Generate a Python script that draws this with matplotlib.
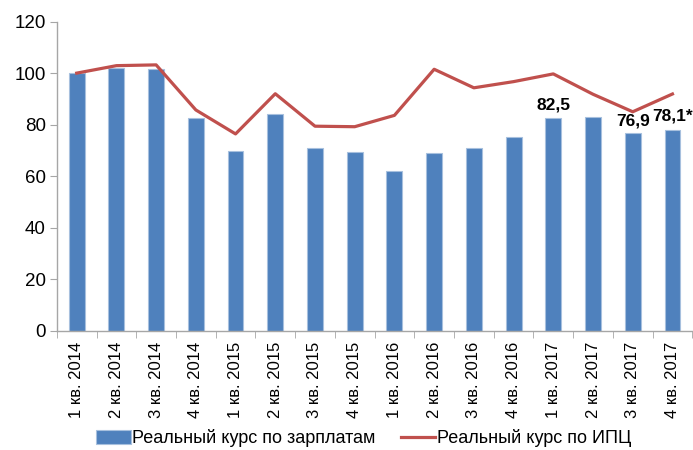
import matplotlib.pyplot as plt
import numpy as np

plt.rcParams['font.family'] = ['Liberation Sans', 'DejaVu Sans']

quarters = ['1 кв. 2014', '2 кв. 2014', '3 кв. 2014', '4 кв. 2014',
            '1 кв. 2015', '2 кв. 2015', '3 кв. 2015', '4 кв. 2015',
            '1 кв. 2016', '2 кв. 2016', '3 кв. 2016', '4 кв. 2016',
            '1 кв. 2017', '2 кв. 2017', '3 кв. 2017', '4 кв. 2017']
wages = [100.0, 102.1, 101.5, 82.6, 69.9, 84.2, 71.1, 69.3,
         62.0, 68.9, 71.0, 75.3, 82.5, 82.9, 76.9, 78.1]
cpi = [100.0, 102.9, 103.2, 85.7, 76.4, 92.0, 79.4, 79.2,
       83.6, 101.5, 94.3, 96.7, 99.7, 91.8, 85.0, 91.9]
# bar labels that the original shows
shown_labels = {12: '82,5', 14: '76,9', 15: '78,1*'}

fig = plt.figure(figsize=(6.93, 4.5), dpi=100)
ax = fig.add_axes([0.082, 0.265, 0.917, 0.687])

x = np.arange(len(quarters))
bars = ax.bar(x, wages, width=0.4, color='#4F81BD', edgecolor='#A7C0DE', linewidth=0.8,
              label='Реальный курс по зарплатам', zorder=2)
line, = ax.plot(x, cpi, color='#C0504D', linewidth=2.3, label='Реальный курс по ИПЦ', zorder=3)

for i, txt in shown_labels.items():
    off = 1.5 if i == 14 else 2.3
    ax.text(x[i], wages[i] + off, txt, ha='center', va='bottom',
            fontsize=12.5, fontweight='bold', color='black', zorder=4)

ax.set_xlim(-0.5, len(quarters) - 0.5)
ax.set_ylim(0, 120)
ax.set_yticks(range(0, 121, 20))
ax.tick_params(axis='y', labelsize=13.5, length=5, color='#A6A6A6', pad=3)

ax.set_xticks(x)
ax.set_xticklabels(quarters, rotation=90, fontsize=12)
ax.tick_params(axis='x', length=0, pad=8)
ax.set_xticks(np.arange(-0.5, len(quarters)), minor=True)
ax.tick_params(axis='x', which='minor', length=5, color='#A6A6A6')

for s in ['top', 'right']:
    ax.spines[s].set_visible(False)
for s in ['left', 'bottom']:
    ax.spines[s].set_color('#A6A6A6')
    ax.spines[s].set_linewidth(1.0)

fig.legend(handles=[bars, line], loc='lower center', bbox_to_anchor=(0.525, -0.03),
           ncol=2, frameon=False, fontsize=13, handlelength=1.9, handleheight=0.8,
           columnspacing=1.4, handletextpad=0.1)

fig.savefig('out.png', dpi=100)
